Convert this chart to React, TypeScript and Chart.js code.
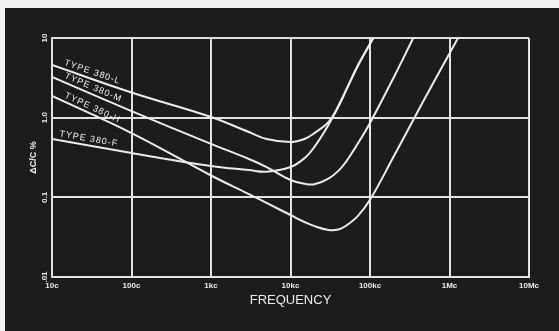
import React, { useEffect, useRef } from 'react';
import { Chart, registerables } from 'chart.js';

Chart.register(...registerables);

// Axis ticks
const xTickValues = [10, 100, 1000, 10000, 100000, 1000000, 10000000];
const xTickLabels = ['10c', '100c', '1kc', '10kc', '100kc', '1Mc', '10Mc'];
const yTickValues = [0.01, 0.1, 1, 10];
const yTickLabels = ['.01', '0.1', '1.0', '10'];

// Series (frequency in c/s, ΔC/C in %)
const seriesNames = ['TYPE 380-L', 'TYPE 380-M', 'TYPE 380-H', 'TYPE 380-F'];

const freqL = [10, 100, 1000, 3000, 5000, 10000, 15000, 20000, 30000, 40000, 50000, 70000, 110000];
const valL = [4.58, 2.07, 1.02, 0.66, 0.54, 0.495, 0.54, 0.64, 0.88, 1.4, 2.22, 4.45, 10];

const freqM = [10, 100, 1000, 3000, 5000, 10000, 15000, 20000, 30000, 40000, 50000, 70000, 100000, 200000, 350000];
const valM = [3.24, 1.21, 0.468, 0.303, 0.24, 0.165, 0.148, 0.146, 0.172, 0.215, 0.28, 0.47, 0.857, 3.24, 10];

const freqH = [10, 100, 1000, 3000, 5000, 10000, 15000, 20000, 30000, 40000, 50000, 70000, 100000, 200000, 300000, 500000, 1280000];
const valH = [1.87, 0.64, 0.188, 0.11, 0.085, 0.06, 0.049, 0.0435, 0.039, 0.0395, 0.044, 0.058, 0.093, 0.33, 0.7, 1.82, 10];

const freqF = [10, 100, 1000, 3000, 5000, 10000, 15000, 20000, 30000, 40000, 50000, 70000, 110000];
const valF = [0.54, 0.36, 0.247, 0.22, 0.21, 0.24, 0.31, 0.43, 0.81, 1.38, 2.2, 4.45, 10];

const labelFreqs = [13.5, 13.5, 13.5, 12];

const seriesFreqs = [freqL, freqM, freqH, freqF];
const seriesVals = [valL, valM, valH, valF];

const INK = '#ececec';
const GRID = '#e2e2e2';
const FONT = '"Liberation Sans", "DejaVu Sans", sans-serif';

const curveLabelPlugin = {
  id: 'curveLabels',
  afterDatasetsDraw(chart: any) {
    const { ctx, scales } = chart;
    const xs = scales.x;
    const ys = scales.y;
    ctx.save();
    ctx.fillStyle = INK;
    ctx.font = `9px ${FONT}`;
    (ctx as any).letterSpacing = '1px';
    ctx.textAlign = 'left';
    ctx.textBaseline = 'bottom';
    seriesNames.forEach((name, i) => {
      const f = seriesFreqs[i];
      const v = seriesVals[i];
      const x0 = xs.getPixelForValue(f[0]);
      const y0 = ys.getPixelForValue(v[0]);
      const x1 = xs.getPixelForValue(f[1]);
      const y1 = ys.getPixelForValue(v[1]);
      const lx = xs.getPixelForValue(labelFreqs[i]);
      const t = (lx - x0) / (x1 - x0);
      const ly = y0 + t * (y1 - y0);
      const ang = Math.atan2(y1 - y0, x1 - x0);
      ctx.save();
      ctx.translate(lx, ly);
      ctx.rotate(ang);
      ctx.fillText(name, 0, -2);
      ctx.restore();
    });
    ctx.restore();
  },
};

export default function App() {
  const ref = useRef<HTMLCanvasElement>(null);
  useEffect(() => {
    document.body.style.margin = '0';
    document.body.style.background = '#f1f1f1';
    const canvas = ref.current!;
    const datasets = seriesNames.map((name, i) => ({
      label: name,
      data: seriesFreqs[i].map((f, j) => ({ x: f, y: seriesVals[i][j] })),
      borderColor: INK,
      borderWidth: 2,
      pointRadius: 0,
      fill: false,
      tension: 0.4,
    }));
    const chart = new Chart(canvas, {
      type: 'line',
      data: { datasets },
      options: {
        animation: false,
        responsive: false,
        layout: { padding: { top: 30, right: 30, left: 0, bottom: 0 } },
        plugins: { legend: { display: false }, tooltip: { enabled: false } },
        scales: {
          x: {
            type: 'logarithmic',
            min: 10,
            max: 10000000,
            afterBuildTicks: (s: any) => {
              s.ticks = xTickValues.map((v) => ({ value: v }));
            },
            afterFit: (s: any) => {
              s.height = 54;
            },
            grid: { color: GRID, lineWidth: 2, drawTicks: false },
            border: { color: GRID, width: 2 },
            ticks: {
              color: INK,
              font: { family: FONT, size: 8, weight: 'bold' },
              padding: 4,
              maxRotation: 0,
              minRotation: 0,
              autoSkip: false,
              callback: (v: any) => xTickLabels[xTickValues.indexOf(Number(v))] ?? '',
            },
            title: {
              display: true,
              text: 'FREQUENCY',
              color: INK,
              font: { family: FONT, size: 13 },
              padding: { top: 4, bottom: 23 },
            },
          },
          y: {
            type: 'logarithmic',
            min: 0.01,
            max: 10,
            afterBuildTicks: (s: any) => {
              s.ticks = yTickValues.map((v) => ({ value: v }));
            },
            afterFit: (s: any) => {
              s.width = 47;
            },
            grid: { color: GRID, lineWidth: 2, drawTicks: false },
            border: { color: GRID, width: 2 },
            ticks: {
              color: INK,
              font: { family: FONT, size: 8, weight: 'bold' },
              padding: 2,
              minRotation: 90,
              maxRotation: 90,
              crossAlign: 'center',
              autoSkip: false,
              callback: (v: any) => {
                const idx = yTickValues.findIndex((t) => Math.abs(t - Number(v)) < 1e-9);
                return idx >= 0 ? yTickLabels[idx] : '';
              },
            },
            title: {
              display: true,
              text: 'ΔC/C %',
              color: INK,
              font: { family: FONT, size: 9, weight: 'bold' },
              padding: { top: 23, bottom: 0 },
            },
          },
        },
      },
      plugins: [curveLabelPlugin],
    });
    return () => chart.destroy();
  }, []);
  return (
    <div
      style={{
        position: 'absolute',
        left: 5,
        top: 8,
        width: 554,
        height: 323,
        background: '#1c1c1c',
      }}
    >
      <canvas ref={ref} width={554} height={323} style={{ display: 'block', width: 554, height: 323 }} />
    </div>
  );
}
